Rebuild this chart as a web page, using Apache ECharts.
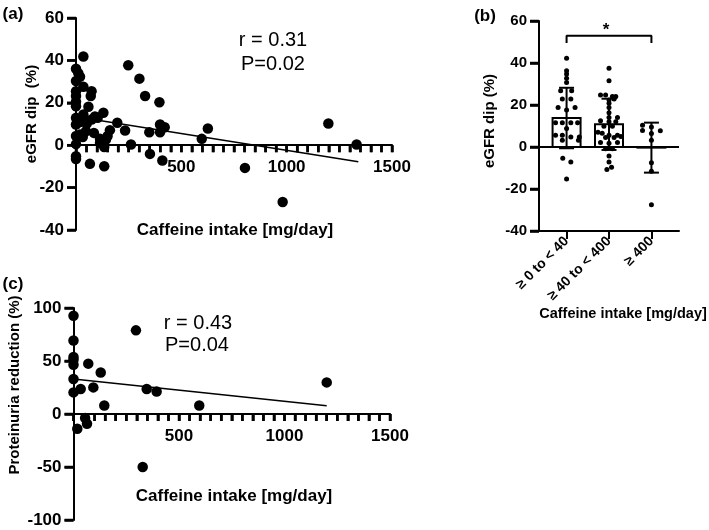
<!DOCTYPE html>
<html>
<head>
<meta charset="utf-8">
<script src="https://cdn.jsdelivr.net/npm/echarts@6/dist/echarts.min.js"></script>
<style>
  html, body { margin: 0; padding: 0; background: #fff; }
  #main { width: 709px; height: 530px; }
</style>
</head>
<body>
<div id="main"></div>
<script>
// (a) 咖啡因摄入 vs eGFR dip
var aX = [35, 0, 11, 19, 0, 35, 74, 70, 0, 0, 0, 59, 0, 248, 301, 328, 396, 130, 103, 74,
  35, 19, 0, 196, 233, 348, 399, 421, 399, 597, 626, 1198, 1332, 261, 351, 410, 802, 981, 66, 134,
  0, 0, 134, 114, 150, 161, 85, 47, 19, 0, 0, 32, 51, 0, 114, 142, 90];
var aY = [41.8, 36.1, 33.9, 32.3, 30.3, 27.6, 25.5, 23.2, 25.5, 23.2, 20.5, 18.1, 18.4, 37.7, 31.4, 23.2, 20.3, 15.3, 12.9, 12.1,
  14.5, 10.9, 9.8, 10.6, 6.9, 6.1, 9.8, 8.5, 6.1, 3.0, 7.9, 10.2, 0.3, 0.3, -4.1, -7.2, -10.7, -26.8, -8.8, -9.9,
  -5.2, -6.5, -0.9, 3.0, 4.3, 7.1, 5.8, 6.6, 5.0, 4.3, 0.5, 3.9, 10.2, 12.9, 1.1, 2.7, 13.5];
var aFitX = [0, 1340];
var aFitY = [13.4, -7.8];
var eGFRTicks = [-40, -20, 0, 20, 40, 60];

// (b) 分组
var bCats = ['≥ 0 to < 40', '≥ 40 to < 400', '≥ 400'];
var bMean = [13.8, 10.8, -0.3];
var bSd = [14.4, 12.2, 11.9];
var bX = [0, 0, 0, 0, 0, -0.14, 0.12, -0.1, 0.1, -0.2, 0.2, 0, -0.26, -0.1, 0.1, 0.26, 0, -0.26, -0.1, 0.1, 0.3, -0.1, 0.28, -0.09, 0.1, 0,
  1, 1, 0.8, 0.92, 1.08, 1.16, 1, 1.12, 1, 1, 1, 1, 1.2, 0.8, 1, 1.16, 0.88, 1.08, 0.74, 0.84, 1, 1.2, 1.28, 0.92, 1.12, 0.8, 1, 1.2, 0.92, 1.08, 1, 1, 0.95, 1.06,
  1.79, 1.79, 2, 2.21, 2, 2, 2, 2, 2];
var bY = [42.3, 36.3, 34.8, 32.7, 30.7, 26.8, 26.8, 22.8, 22.8, 18.8, 18.8, 17.6, 11.5, 11.5, 11.5, 11.5, 8.8, 5.6, 5.6, 4.8, 4.8, 3.2, 3.2, -5.3, -7.2, -15.2,
  37.5, 31.5, 24.8, 24.8, 24, 24, 22.4, 22.8, 20.8, 18.8, 16.3, 14.1, 14.1, 12.5, 12, 12, 9.9, 9.9, 7, 6.5, 5.6, 5.6, 5, 4.5, 4.5, 2.2, 1.8, 2.2, -0.8, -0.8, -4.3, -7.2, -10.7, -9.6,
  10.3, 7.9, 9.5, 7.7, 6.4, 3.2, -7.5, -11.5, -27.5];
var bBracketX = [0, 0, 2, 2];
var bBracketY = [49.5, 53, 53, 49.5];

// (c) 咖啡因摄入 vs 蛋白尿下降
var cX = [0, 0, 0, 0, 0, 0, 0, 70, 129, 34, 94, 146, 296, 347, 394, 596, 1200, 18, 64, 55, 328];
var cY = [92.7, 69.4, 53.8, 51.2, 46.5, 33, 20.4, 47.5, 39.2, 23.6, 25.1, 8.1, 78.9, 23.6, 21.3, 8.1, 29.8, -13.9, -9.2, -3.8, -50];
var cFitX = [0, 1200];
var cFitY = [33, 7.8];
var protTicks = [-100, -50, 0, 50, 100];

// x 轴: 标签只有 500/1000/1500, 小刻度每 50
var caffeineLabels = [500, 1000, 1500];
var caffeineTicks = [];
for (var t = 0; t <= 1500; t += 50) caffeineTicks.push(t);

var FONT = 'Liberation Sans, Arial, sans-serif';

function zip(xs, ys) {
  var out = [];
  for (var i = 0; i < xs.length; i++) out.push([xs[i], ys[i]]);
  return out;
}

var tickLabel = { color: '#000', fontSize: 17, fontWeight: 'bold', fontFamily: FONT };

// x轴画在 y=0 处 (onZero 不生效, 用 offset 往上挪)
function caffeineAxis(grid, lift) {
  return {
    gridIndex: grid, type: 'value', min: 0, max: 1500,
    position: 'bottom', offset: -lift,
    axisLine: { show: true, onZero: false, lineStyle: { color: '#000', width: 2 } },
    axisTick: { show: true, customValues: caffeineTicks, length: 7, lineStyle: { color: '#000', width: 2.5 } },
    splitLine: { show: false },
    axisLabel: Object.assign({ margin: 14, customValues: caffeineLabels,
      formatter: function (v) { return String(v); } }, tickLabel)
  };
}

function valueAxis(grid, min, max, ticks, size) {
  return {
    gridIndex: grid, type: 'value', min: min, max: max,
    axisLine: { show: true, onZero: false, lineStyle: { color: '#000', width: 2 } },
    axisTick: { show: true, customValues: ticks, length: 9, lineStyle: { color: '#000', width: 2.5 } },
    splitLine: { show: false },
    axisLabel: Object.assign({ margin: 12, customValues: ticks }, tickLabel, { fontSize: size })
  };
}

// 刻度线: 用矩形符号的散点按坐标画出来
function tickSeries(xi, yi, values, dir, base, len) {
  return {
    type: 'scatter', xAxisIndex: xi, yAxisIndex: yi, silent: true, z: 5,
    data: values.map(function (v) { return dir === 'x' ? [v, base] : [base, v]; }),
    symbol: 'rect',
    symbolSize: dir === 'x' ? [2.5, len] : [len, 2.5],
    symbolOffset: dir === 'x' ? [0, len / 2] : [-len / 2, 0],
    itemStyle: { color: '#000', opacity: 1 }
  };
}

function txt(x, y, s, size, weight, rot) {
  return {
    type: 'text', x: x, y: y, rotation: rot || 0, z: 10,
    style: { text: s, fill: '#000', fontSize: size, fontWeight: weight, fontFamily: FONT,
      align: 'center', verticalAlign: 'middle' }
  };
}

var chart = echarts.init(document.getElementById('main'));

var option = {
  backgroundColor: '#fff',
  animation: false,
  grid: [
    { left: 76, top: 18, width: 316, height: 212, outerBoundsMode: 'none' },
    { left: 539, top: 21, width: 140, height: 210, outerBoundsMode: 'none' },
    { left: 73.5, top: 308, width: 316.5, height: 212, outerBoundsMode: 'none' }
  ],
  xAxis: [
    caffeineAxis(0, 212 * 0.4),
    {
      gridIndex: 1, type: 'value', min: -0.65, max: 2.65,
      axisLine: { show: true, onZero: false, lineStyle: { color: '#000', width: 2 } },
      axisTick: { show: true, customValues: [0, 1, 2], length: 8, lineStyle: { color: '#000', width: 2 } },
      splitLine: { show: false },
      axisLabel: {
        customValues: [0, 1, 2], rotate: 45, margin: 8,
        color: '#000', fontSize: 14, fontWeight: 'bold', fontFamily: FONT,
        formatter: function (v) { return bCats[Math.round(v)]; }
      }
    },
    caffeineAxis(2, 212 * 0.5)
  ],
  yAxis: [
    valueAxis(0, -40, 60, eGFRTicks, 17),
    valueAxis(1, -40, 60, eGFRTicks, 15),
    valueAxis(2, -100, 100, protTicks, 17)
  ],
  series: [
    {
      type: 'scatter', xAxisIndex: 0, yAxisIndex: 0, data: zip(aX, aY),
      symbolSize: 10.5, itemStyle: { color: '#000', opacity: 1 }, z: 3
    },
    {
      type: 'line', xAxisIndex: 0, yAxisIndex: 0, data: zip(aFitX, aFitY),
      showSymbol: false, lineStyle: { color: '#000', width: 1.5 }, z: 4
    },
    {
      type: 'custom', xAxisIndex: 1, yAxisIndex: 1,
      data: bMean.map(function (m, i) { return [i, m, bSd[i]]; }),
      encode: { x: 0, y: 1 },
      z: 1,
      renderItem: function (params, api) {
        var x = api.value(0), m = api.value(1), s = api.value(2);
        var p0 = api.coord([x - 0.33, m]);
        var p1 = api.coord([x + 0.33, 0]);
        var top = api.coord([x, m + s]);
        var bot = api.coord([x, m - s]);
        var cap = 7.5;
        var ls = { stroke: '#000', lineWidth: 2 };
        return {
          type: 'group',
          children: [
            { type: 'rect', shape: { x: p0[0], y: Math.min(p0[1], p1[1]), width: p1[0] - p0[0], height: Math.abs(p1[1] - p0[1]) },
              style: { fill: '#fff', stroke: '#000', lineWidth: 2 } },
            { type: 'line', shape: { x1: top[0], y1: top[1], x2: bot[0], y2: bot[1] }, style: ls },
            { type: 'line', shape: { x1: top[0] - cap, y1: top[1], x2: top[0] + cap, y2: top[1] }, style: ls },
            { type: 'line', shape: { x1: bot[0] - cap, y1: bot[1], x2: bot[0] + cap, y2: bot[1] }, style: ls }
          ]
        };
      }
    },
    {
      type: 'scatter', xAxisIndex: 1, yAxisIndex: 1, data: zip(bX, bY),
      symbolSize: 5, itemStyle: { color: '#000', opacity: 1 }, z: 3,
      markLine: {
        silent: true, symbol: 'none', label: { show: false },
        lineStyle: { color: '#000', width: 2, type: 'solid' },
        data: [{ yAxis: 0 }]
      }
    },
    {
      type: 'line', xAxisIndex: 1, yAxisIndex: 1, data: zip(bBracketX, bBracketY),
      showSymbol: false, lineStyle: { color: '#000', width: 2 }, z: 4
    },
    {
      type: 'scatter', xAxisIndex: 2, yAxisIndex: 2, data: zip(cX, cY),
      symbolSize: 10.5, itemStyle: { color: '#000', opacity: 1 }, z: 3
    },
    {
      type: 'line', xAxisIndex: 2, yAxisIndex: 2, data: zip(cFitX, cFitY),
      showSymbol: false, lineStyle: { color: '#000', width: 1.5 }, z: 4
    },
    tickSeries(0, 0, caffeineTicks, 'x', 0, 7),
    tickSeries(2, 2, caffeineTicks, 'x', 0, 7),
    tickSeries(0, 0, eGFRTicks, 'y', 0, 9),
    tickSeries(1, 1, eGFRTicks, 'y', -0.65, 9),
    tickSeries(2, 2, protTicks, 'y', 0, 9)
  ],
  graphic: [
    txt(13, 14, '(a)', 17, 'bold'),
    txt(485, 16, '(b)', 17, 'bold'),
    txt(13, 284, '(c)', 17, 'bold'),
    txt(273, 40, 'r = 0.31', 20, 'normal'),
    txt(273, 64, 'P=0.02', 20, 'normal'),
    txt(198, 323, 'r = 0.43', 20, 'normal'),
    txt(197, 345, 'P=0.04', 20, 'normal'),
    txt(606, 30, '*', 17, 'bold'),
    txt(32, 114, 'eGFR dip  (%)', 15, 'bold', Math.PI / 2),
    txt(490, 121, 'eGFR dip (%)', 15, 'bold', Math.PI / 2),
    txt(15, 385, 'Proteinuria reduction (%)', 15, 'bold', Math.PI / 2),
    txt(235, 230, 'Caffeine intake [mg/day]', 17, 'bold'),
    txt(234, 496, 'Caffeine intake [mg/day]', 17, 'bold'),
    txt(623, 314, 'Caffeine intake [mg/day]', 14.5, 'bold')
  ]
};

chart.setOption(option);
</script>
</body>
</html>
